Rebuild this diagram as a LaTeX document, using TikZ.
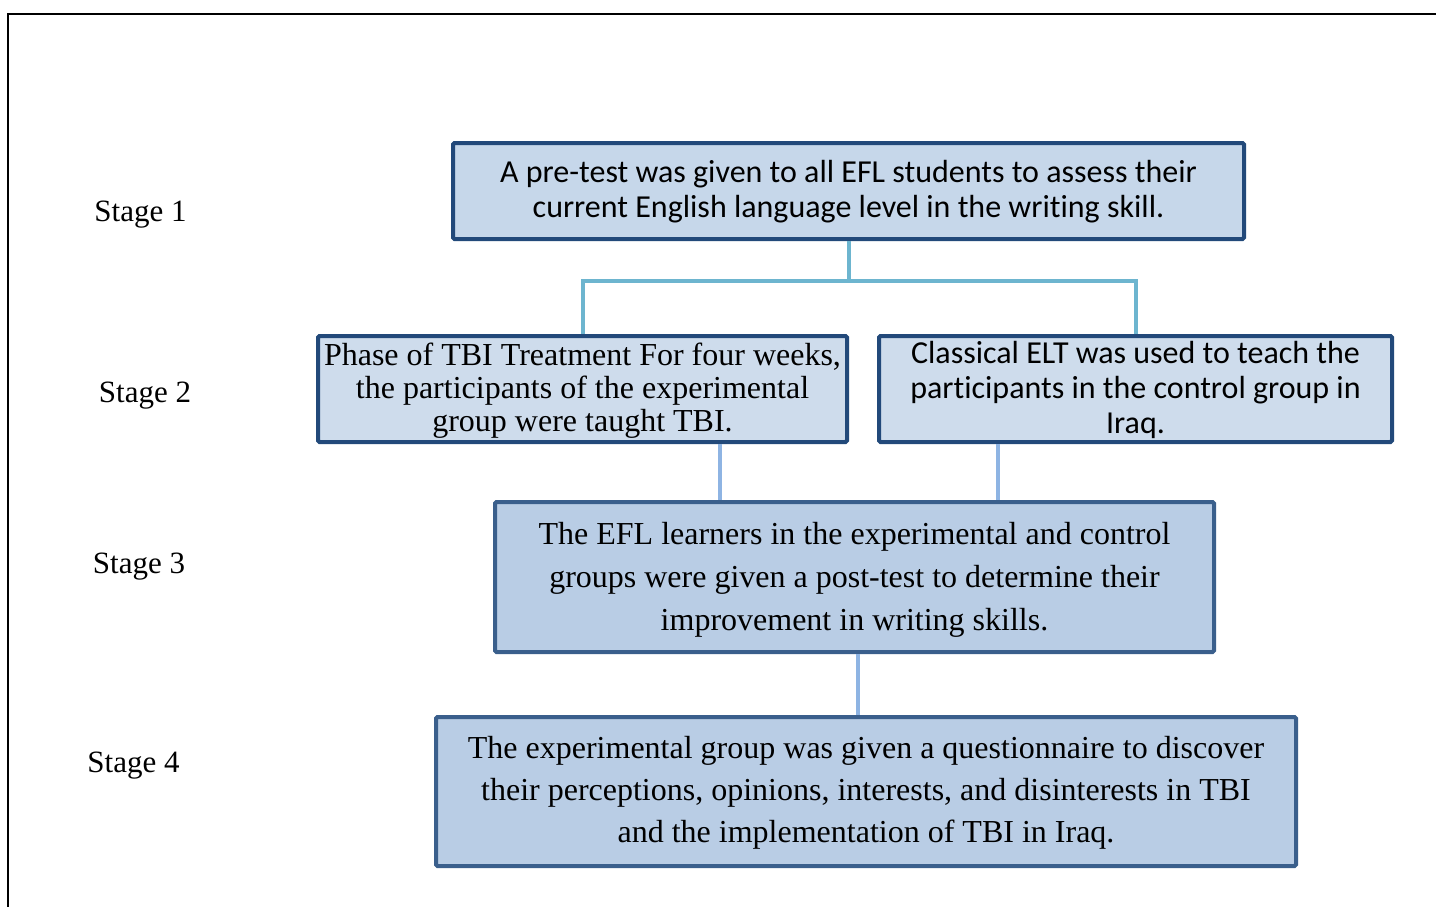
\documentclass[tikz,border=0pt]{standalone}
\usepackage{fontspec}
\setmainfont{Liberation Serif}
\newfontfamily\calibri[RawFeature=-liga]{Carlito}
\definecolor{borderA}{HTML}{22497A}
\definecolor{borderB}{HTML}{3A5F8C}
\definecolor{fillA}{HTML}{C6D7EA}
\definecolor{fillB}{HTML}{CEDCEC}
\definecolor{fillC}{HTML}{B9CDE5}
\definecolor{linkA}{HTML}{6DB5CF}
\definecolor{linkB}{HTML}{8EB4E3}
\newcommand\lowered[2]{\raisebox{-#1}[\height][\depth]{\begin{tabular}{@{}c@{}}#2\end{tabular}}}
\begin{document}
\begin{tikzpicture}[x=1pt,y=-1pt,
  box/.style={draw, rectangle, rounded corners=1.5pt, line width=4pt, inner sep=0pt, text=black},
  boxa/.style={box, draw=borderA, fill=fillA},
  boxb/.style={box, draw=borderA, fill=fillB},
  boxc/.style={box, draw=borderB, fill=fillC},
  stagelbl/.style={inner sep=0pt, font=\fontsize{31}{36}\selectfont},
  linka/.style={draw=linkA, line width=4pt},
  linkb/.style={draw=linkB, line width=4pt}]
\fill[white] (0,0) rectangle (1436,907);
\useasboundingbox (0,0) rectangle (1436,907);
\draw[line width=2.5pt] (8,907) -- (8,14) -- (1436,14);

\node[stagelbl] (s1) at (140.5,215) {Stage 1};
\node[stagelbl] (s2) at (145,396) {Stage 2};
\node[stagelbl] (s3) at (139,567) {Stage 3};
\node[stagelbl] (s4) at (133.5,766) {Stage 4};

\node[boxa, minimum width=791, minimum height=96,
  font=\calibri\fontsize{32}{35}\selectfont] (b1) at (848.5,191)
  {\lowered{2pt}{A pre-test was given to all EFL students to assess their\\current English language level in the writing skill.}};
\node[boxb, minimum width=529, minimum height=106,
  font=\fontsize{32}{33}\selectfont] (b2l) at (582.5,389)
  {\lowered{3pt}{Phase of TBI Treatment For four weeks,\\the participants of the experimental\\group were taught TBI.}};
\node[boxb, minimum width=513, minimum height=106,
  font=\calibri\fontsize{32}{35}\selectfont] (b2r) at (1135.5,389)
  {\lowered{2pt}{Classical ELT was used to teach the\\participants in the control group in\\Iraq.}};
\node[boxc, minimum width=719, minimum height=150,
  font=\fontsize{32}{43}\selectfont] (b3) at (854.5,577)
  {\lowered{2pt}{The EFL learners in the experimental and control\\groups were given a post-test to determine their\\improvement in writing skills.}};
\node[boxc, minimum width=860, minimum height=149,
  font=\fontsize{32}{42}\selectfont] (b4) at (866,791.5)
  {\lowered{1pt}{The experimental group was given a questionnaire to discover\\their perceptions, opinions, interests, and disinterests in TBI\\and the implementation of TBI in Iraq.}};

\draw[linka] (b1.south) -- (b1.south |- 0,281) -| (b2l.north);
\draw[linka] (b1.south) -- (b1.south |- 0,281) -| (b2r.north);
\draw[linkb] (b2l.south -| 720,0) -- (b3.north -| 720,0);
\draw[linkb] (b2r.south -| 998,0) -- (b3.north -| 998,0);
\draw[linkb] (b3.south -| 858,0) -- (b4.north -| 858,0);
\end{tikzpicture}
\end{document}
